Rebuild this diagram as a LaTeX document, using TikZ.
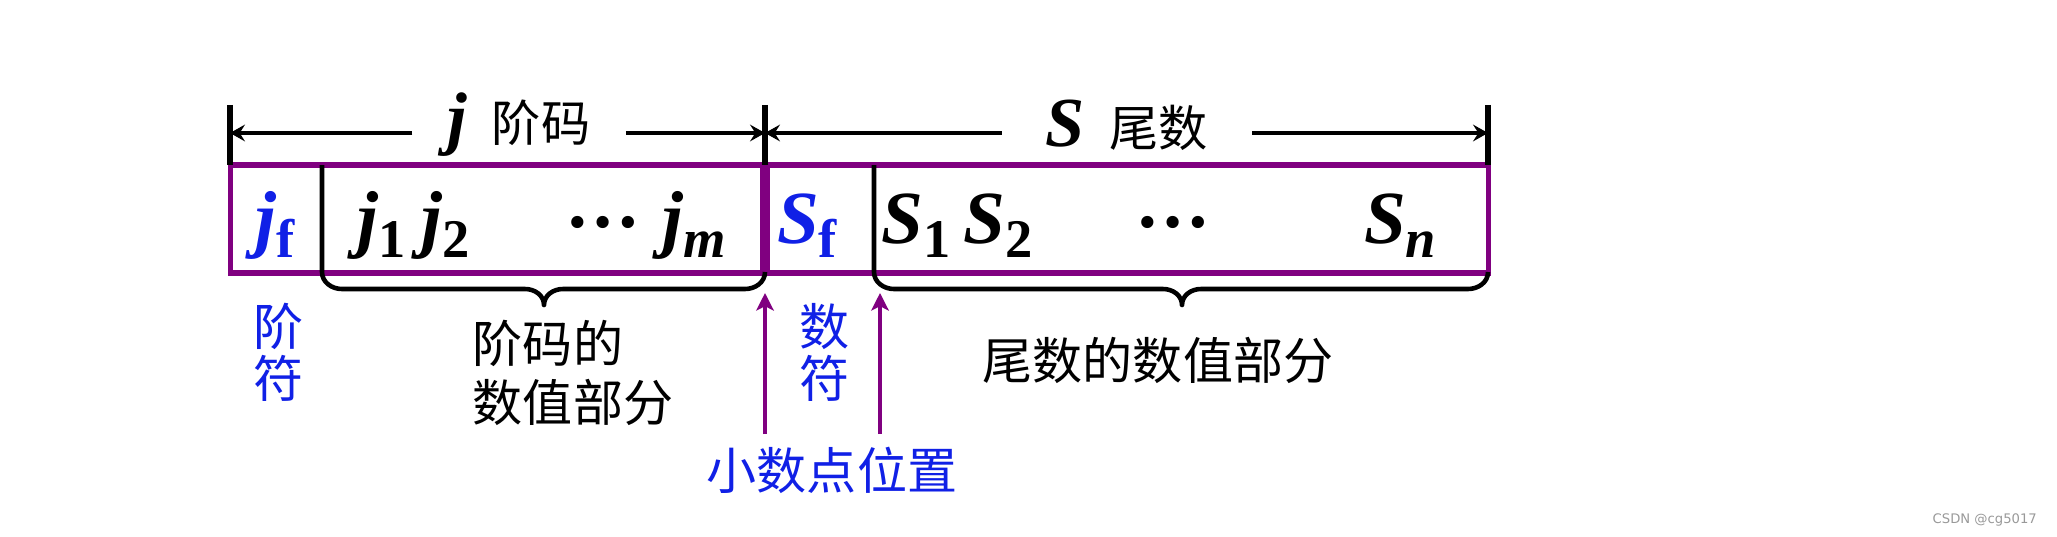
\documentclass[tikz,border=0pt]{standalone}
\usepackage{fontspec}
\setmainfont{LiberationSerif-Regular.ttf}[BoldFont=LiberationSerif-Bold.ttf,ItalicFont=LiberationSerif-Italic.ttf,BoldItalicFont=LiberationSerif-BoldItalic.ttf]
\newfontfamily\cjk{Noto Sans CJK SC}
\newfontfamily\wmark{DejaVu Sans}
\usetikzlibrary{arrows.meta}
\definecolor{fblue}{RGB}{16,32,230}
\definecolor{fpurple}{RGB}{128,0,128}
\newcommand\low[1]{\raisebox{-0.19em}{\fontsize{31}{31}\selectfont #1}}

\begin{document}
\begin{tikzpicture}[x=0.02cm,y=-0.02cm,
	lett/.style={anchor=base,inner sep=0pt,font=\fontsize{42.7}{46}\selectfont\bfseries\itshape},
	hd/.style={inner ysep=0pt,font=\fontsize{28}{30}\selectfont},
	lbl/.style={inner sep=0pt,font=\cjk\fontsize{28.5}{29.6}\selectfont},
	dim/.style={line width=2.8pt,-{Stealth[length=8.5pt,width=9.5pt,inset=3pt]}},
	tick/.style={line width=3.6pt},
	ptr/.style={fpurple,line width=2.3pt,shorten <=7pt,-{Stealth[length=10pt,width=10pt,inset=2.5pt]}},
	brc/.style={line width=2.6pt,line join=round}]
	\useasboundingbox (0,0) rectangle (2057,537);
	% the word
	\draw[fpurple,line width=2.85pt] (230,165) rectangle (1488,273);
	\draw[fpurple,line width=6pt] (765,165) -- (765,273);
	\foreach \a/\m/\b in {322/544/765,874/1182/1488}
		\draw[brc] (\a,165) -- (\a,272) to[out=-90,in=180] (\a+20,289) -- (\m-19,289)
			to[out=0,in=90] (\m,305) to[out=90,in=180] (\m+19,289) -- (\b-20,289) to[out=0,in=-90] (\b,272);
	% widths on top
	\coordinate (tL) at (230,133);
	\coordinate (tM) at (765,133);
	\coordinate (tR) at (1488,133);
	\foreach \t in {tL,tM,tR}
		\draw[tick] (\t) ++(0,-28) -- ++(0,60);
	\node[hd,inner xsep=20pt] (jhd) at (519,125) {{\fontsize{40}{40}\selectfont\bfseries\itshape j}\hspace{14pt}{\cjk 阶码}};
	\node[hd,inner xsep=25pt] (shd) at (1127,125) {{\fontsize{40}{40}\selectfont\bfseries\itshape S}\hspace{14pt}{\cjk 尾数}};
	\draw[dim] (tL -| jhd.west) -- (tL);
	\draw[dim] (tM -| jhd.east) -- (tM);
	\draw[dim] (tM -| shd.west) -- (tM);
	\draw[dim] (tR -| shd.east) -- (tR);
	% bits
	\node[lett,fblue] (jf) at (275,243) {j\low{\upshape f}};
	\node[lett] (j1) at (382,243) {j\low{\upshape 1}};
	\node[lett] (j2) at (446,243) {j\low{\upshape 2}};
	\node[lett] (jdots) at (603,243) {\upshape\raisebox{0.21em}{…}};
	\node[lett] (jm) at (694,243) {j\low{m}};
	\node[lett,fblue] (sf) at (807,243) {S\low{\upshape f}};
	\node[lett] (s1) at (916,243) {S\low{\upshape 1}};
	\node[lett] (s2) at (998,243) {S\low{\upshape 2}};
	\node[lett] (sdots) at (1173,243) {\upshape\raisebox{0.21em}{…}};
	\node[lett] (sn) at (1400,243) {S\low{n}};
	% labels below
	\node[lbl,fblue,align=center] (jsign) at (279,352) {阶\\符};
	\node[lbl,align=left,font=\cjk\fontsize{28.5}{34}\selectfont] (jval) at (573,373) {阶码的\\数值部分};
	\node[lbl,fblue,align=center] (ssign) at (825,352) {数\\符};
	\node[lbl] (sval) at (1158,360) {尾数的数值部分};
	\node[lbl,fblue] (dotpos) at (832,470) {小数点位置};
	\coordinate (dp1) at (765,293);
	\coordinate (dp2) at (880,293);
	\draw[ptr] (dotpos.north -| dp1) -- (dp1);
	\draw[ptr] (dotpos.north -| dp2) -- (dp2);
	\node[font=\wmark\fontsize{7.5}{8}\selectfont,text=gray!80,anchor=east] (wm) at (2043,520) {CSDN @cg5017};
\end{tikzpicture}
\end{document}
